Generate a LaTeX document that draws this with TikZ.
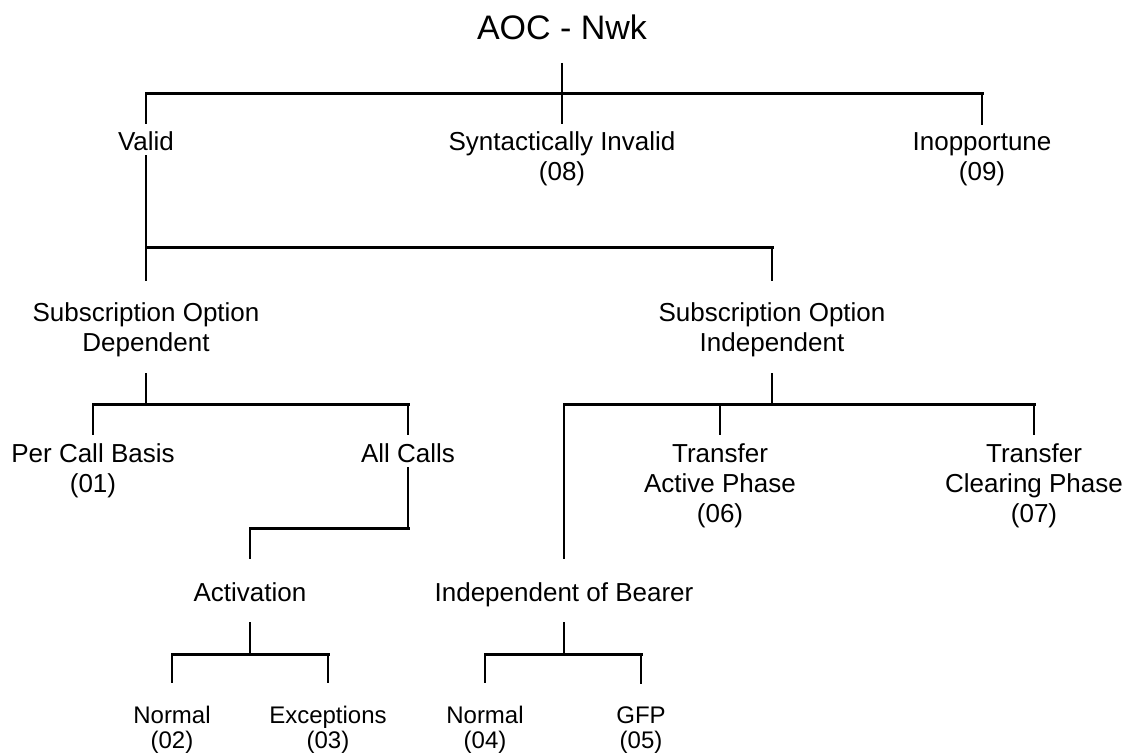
\documentclass[tikz,border=0pt]{standalone}
\usepackage{fontspec}
\setmainfont{Liberation Sans}
\begin{document}
\begin{tikzpicture}[x=1pt,y=-1pt,
  lbl/.style={inner sep=0pt, align=center, anchor=base, font=\fontsize{26}{30}\selectfont},
  small/.style={lbl, font=\fontsize{24}{25}\selectfont},
  stem/.style={line width=2.2pt},
  bar/.style={line width=3pt, line cap=rect}]
\useasboundingbox (0,0) rectangle (1130,754);
% nodes (anchor = baseline of the last line)
\node[lbl, font=\fontsize{34}{40}\selectfont] (aoc) at (562,39.3) {AOC - Nwk};
\node[lbl] (valid) at (146,150.6) {Valid};
\node[lbl] (synt) at (562,180.6) {Syntactically Invalid\\(08)};
\node[lbl] (inop) at (982,180.6) {Inopportune\\(09)};
\node[lbl] (sod) at (146,351.6) {Subscription Option\\Dependent};
\node[lbl] (soi) at (772,351.6) {Subscription Option\\Independent};
\node[lbl] (pcb) at (93,492.6) {Per Call Basis\\(01)};
\node[lbl] (allc) at (408,462.6) {All Calls};
\node[lbl] (tap) at (720,522.6) {Transfer\\Active Phase\\(06)};
\node[lbl] (tcp) at (1034,522.6) {Transfer\\Clearing Phase\\(07)};
\node[lbl] (act) at (250,601.6) {Activation};
\node[lbl] (iob) at (564,601.6) {Independent of Bearer};
\node[small] (n02) at (172,748.5) {Normal\\(02)};
\node[small] (n03) at (328,748.5) {Exceptions\\(03)};
\node[small] (n04) at (485,748.5) {Normal\\(04)};
\node[small] (n05) at (641,748.5) {GFP\\(05)};
% junctions
\coordinate (j0) at (562,94);
\coordinate (b1l) at (146,94);
\coordinate (b1r) at (982,94);
\coordinate (b2l) at (146,248);
\coordinate (b2r) at (772,248);
\coordinate (b3m) at (146,404);
\coordinate (b3a) at (93,404);
\coordinate (b3b) at (408,404);
\coordinate (e1) at (408,528);
\coordinate (e2) at (250,528);
\coordinate (r0) at (772,404);
\coordinate (r1) at (564,404);
\coordinate (r2) at (720,404);
\coordinate (r3) at (1034,404);
\coordinate (a0) at (250,654);
\coordinate (a1) at (172,654);
\coordinate (a2) at (328,654);
\coordinate (i0) at (564,654);
\coordinate (i1) at (485,654);
\coordinate (i2) at (641,654);
% level 1
\draw[stem, shorten <=23pt] (aoc) -- (j0);
\draw[bar] (b1l) -- (b1r);
\draw[stem, shorten >=8pt] (b1l) -- (valid);
\draw[stem, shorten >=8pt] (j0) -- (synt);
\draw[stem, shorten >=8pt] (b1r) -- (inop);
% valid
\draw[stem, shorten <=4.4pt] (valid) -- (b2l);
\draw[bar] (b2l) -- (b2r);
\draw[stem, shorten >=22pt] (b2l) -- (sod);
\draw[stem, shorten >=22pt] (b2r) -- (soi);
% dependent
\draw[stem, shorten <=16pt] (sod) -- (b3m);
\draw[bar] (b3a) -- (b3b);
\draw[stem, shorten >=9pt] (b3a) -- (pcb);
\draw[stem, shorten >=9pt] (b3b) -- (allc);
% all calls
\draw[stem, shorten <=4.4pt] (allc) -- (e1);
\draw[bar] (e1) -- (e2);
\draw[stem, shorten >=24pt] (e2) -- (act);
% independent
\draw[stem, shorten <=16pt] (soi) -- (r0);
\draw[bar] (r1) -- (r3);
\draw[stem, shorten >=9pt] (r2) -- (tap);
\draw[stem, shorten >=9pt] (r3) -- (tcp);
\draw[stem, shorten >=24pt] (r1) -- (iob);
% activation
\draw[stem, shorten <=20.4pt] (act) -- (a0);
\draw[bar] (a1) -- (a2);
\draw[stem, shorten >=23pt] (a1) -- (n02);
\draw[stem, shorten >=23pt] (a2) -- (n03);
% bearer
\draw[stem, shorten <=15pt] (iob) -- (i0);
\draw[bar] (i1) -- (i2);
\draw[stem, shorten >=23pt] (i1) -- (n04);
\draw[stem, shorten >=23pt] (i2) -- (n05);
\end{tikzpicture}
\end{document}
